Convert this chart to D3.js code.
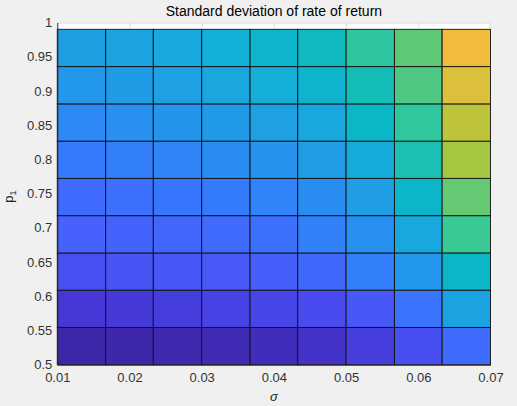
<!DOCTYPE html>
<html>
<head>
<meta charset="utf-8">
<script src="https://cdn.jsdelivr.net/npm/d3@7"></script>
<style>
  body { margin: 0; background: #f0f0f0; }
  svg { display: block; font-family: "Liberation Sans", Arial, sans-serif; }
</style>
</head>
<body>
<div id="chart"></div>
<script>
// grid corners (pcolor style: 10 x 10 corners -> 9 x 9 cells)
const sigma = [0.01, 0.0167, 0.0233, 0.03, 0.0367, 0.0433, 0.05, 0.0567, 0.0633, 0.07];
const p1 = [0.5, 0.5544, 0.6089, 0.6633, 0.7178, 0.7722, 0.8267, 0.8811, 0.9356, 0.99];

// cell colour levels (fraction of the colormap), rows from p1 = 0.5 upward
const level = [
  [0.00, 0.005, 0.01, 0.017, 0.027, 0.047, 0.08, 0.135, 0.21],
  [0.065, 0.07, 0.081, 0.095, 0.104, 0.125, 0.16, 0.23, 0.381],
  [0.14, 0.148, 0.155, 0.163, 0.18, 0.205, 0.26, 0.34, 0.485],
  [0.184, 0.19, 0.197, 0.208, 0.224, 0.266, 0.316, 0.40, 0.575],
  [0.21, 0.226, 0.237, 0.25, 0.275, 0.306, 0.364, 0.48, 0.628],
  [0.247, 0.26, 0.28, 0.306, 0.326, 0.36, 0.41, 0.53, 0.704],
  [0.293, 0.316, 0.333, 0.353, 0.374, 0.40, 0.49, 0.56, 0.747],
  [0.343, 0.357, 0.37, 0.395, 0.42, 0.46, 0.52, 0.60, 0.80],
  [0.367, 0.385, 0.40, 0.426, 0.47, 0.51, 0.557, 0.62, 0.84]
];

const xTicks = [0.01, 0.02, 0.03, 0.04, 0.05, 0.06, 0.07];
const yTicks = [0.5, 0.55, 0.6, 0.65, 0.7, 0.75, 0.8, 0.85, 0.9, 0.95, 1];

// parula stops
const parulaPos = [0, 0.0667, 0.1216, 0.143, 0.184, 0.247, 0.286, 0.429, 0.5, 0.571, 0.714, 0.857, 1];
const parulaCol = ["#3e26a8", "#4538d7", "#484bee", "#4851f3", "#4661fc", "#3579fd", "#2e87f7",
                   "#12b1d6", "#08b8c4", "#37c897", "#abc739", "#fcb93c", "#f9fb14"];

const W = 517, H = 406;
const margin = {top: 22.5, right: 26.5, bottom: 41.3, left: 57.3};

const svg = d3.select("#chart").append("svg")
  .attr("width", W).attr("height", H);

const x = d3.scaleLinear().domain([0.01, 0.07]).range([margin.left, W - margin.right]);
const y = d3.scaleLinear().domain([0.5, 1]).range([H - margin.bottom, margin.top]);
const color = d3.scaleLinear().domain(parulaPos).range(parulaCol).interpolate(d3.interpolateRgb);

// axes background
svg.append("rect")
  .attr("x", x(0.01)).attr("y", y(1))
  .attr("width", x(0.07) - x(0.01)).attr("height", y(0.5) - y(1))
  .attr("fill", "#fff");

// tick marks at the top (visible in the white strip)
svg.append("g")
  .attr("transform", `translate(0,${y(1)})`)
  .call(d3.axisBottom(x).tickValues(xTicks.slice(1, -1)).tickSize(5).tickFormat(""))
  .call(g => g.select(".domain").remove())
  .selectAll("line").attr("stroke", "#d6d6d6");

// box top / right (light)
svg.append("path")
  .attr("d", `M${x(0.01)},${y(1) + 0.5}H${x(0.07) - 0.5}V${y(0.5)}`)
  .attr("fill", "none").attr("stroke", "#d9d9d9").attr("stroke-width", 1);

// cells
const cells = [];
level.forEach((row, i) => row.forEach((v, j) => cells.push({i, j, v})));

svg.append("g").selectAll("rect")
  .data(cells)
  .join("rect")
  .attr("x", d => x(sigma[d.j]))
  .attr("y", d => y(p1[d.i + 1]))
  .attr("width", d => x(sigma[d.j + 1]) - x(sigma[d.j]))
  .attr("height", d => y(p1[d.i]) - y(p1[d.i + 1]))
  .attr("fill", d => color(d.v))
  .attr("stroke", "#111")
  .attr("stroke-opacity", 0.9)
  .attr("stroke-width", 1);

// axes
const xAxis = svg.append("g")
  .attr("transform", `translate(0,${y(0.5)})`)
  .call(d3.axisBottom(x).tickValues(xTicks).tickSize(0).tickPadding(8).tickFormat(d3.format("")));
const yAxis = svg.append("g")
  .attr("transform", `translate(${x(0.01)},0)`)
  .call(d3.axisLeft(y).tickValues(yTicks).tickSize(0).tickPadding(5).tickFormat(d3.format("")));

[xAxis, yAxis].forEach(g => {
  g.select(".domain").attr("stroke", "#262626").attr("stroke-width", 1);
  g.selectAll("text").attr("fill", "#333").style("font-size", "13px").style("font-family", "Liberation Sans, Arial, sans-serif");
});

// title
svg.append("text")
  .attr("x", (x(0.01) + x(0.07)) / 2).attr("y", 16)
  .attr("text-anchor", "middle")
  .attr("fill", "#000")
  .style("font-size", "14px")
  .text("Standard deviation of rate of return");

// x label
svg.append("text")
  .attr("x", (x(0.01) + x(0.07)) / 2).attr("y", 401)
  .attr("text-anchor", "middle")
  .attr("fill", "#262626")
  .style("font-size", "13px")
  .style("font-style", "italic")
  .text("σ");

// y label
const yl = svg.append("text")
  .attr("transform", `translate(13,${y(0.75) + 3}) rotate(-90)`)
  .attr("text-anchor", "middle")
  .attr("fill", "#262626")
  .style("font-size", "13px");
yl.append("tspan").text("p");
yl.append("tspan").attr("dy", 3).style("font-size", "9px").text("1");
</script>
</body>
</html>
